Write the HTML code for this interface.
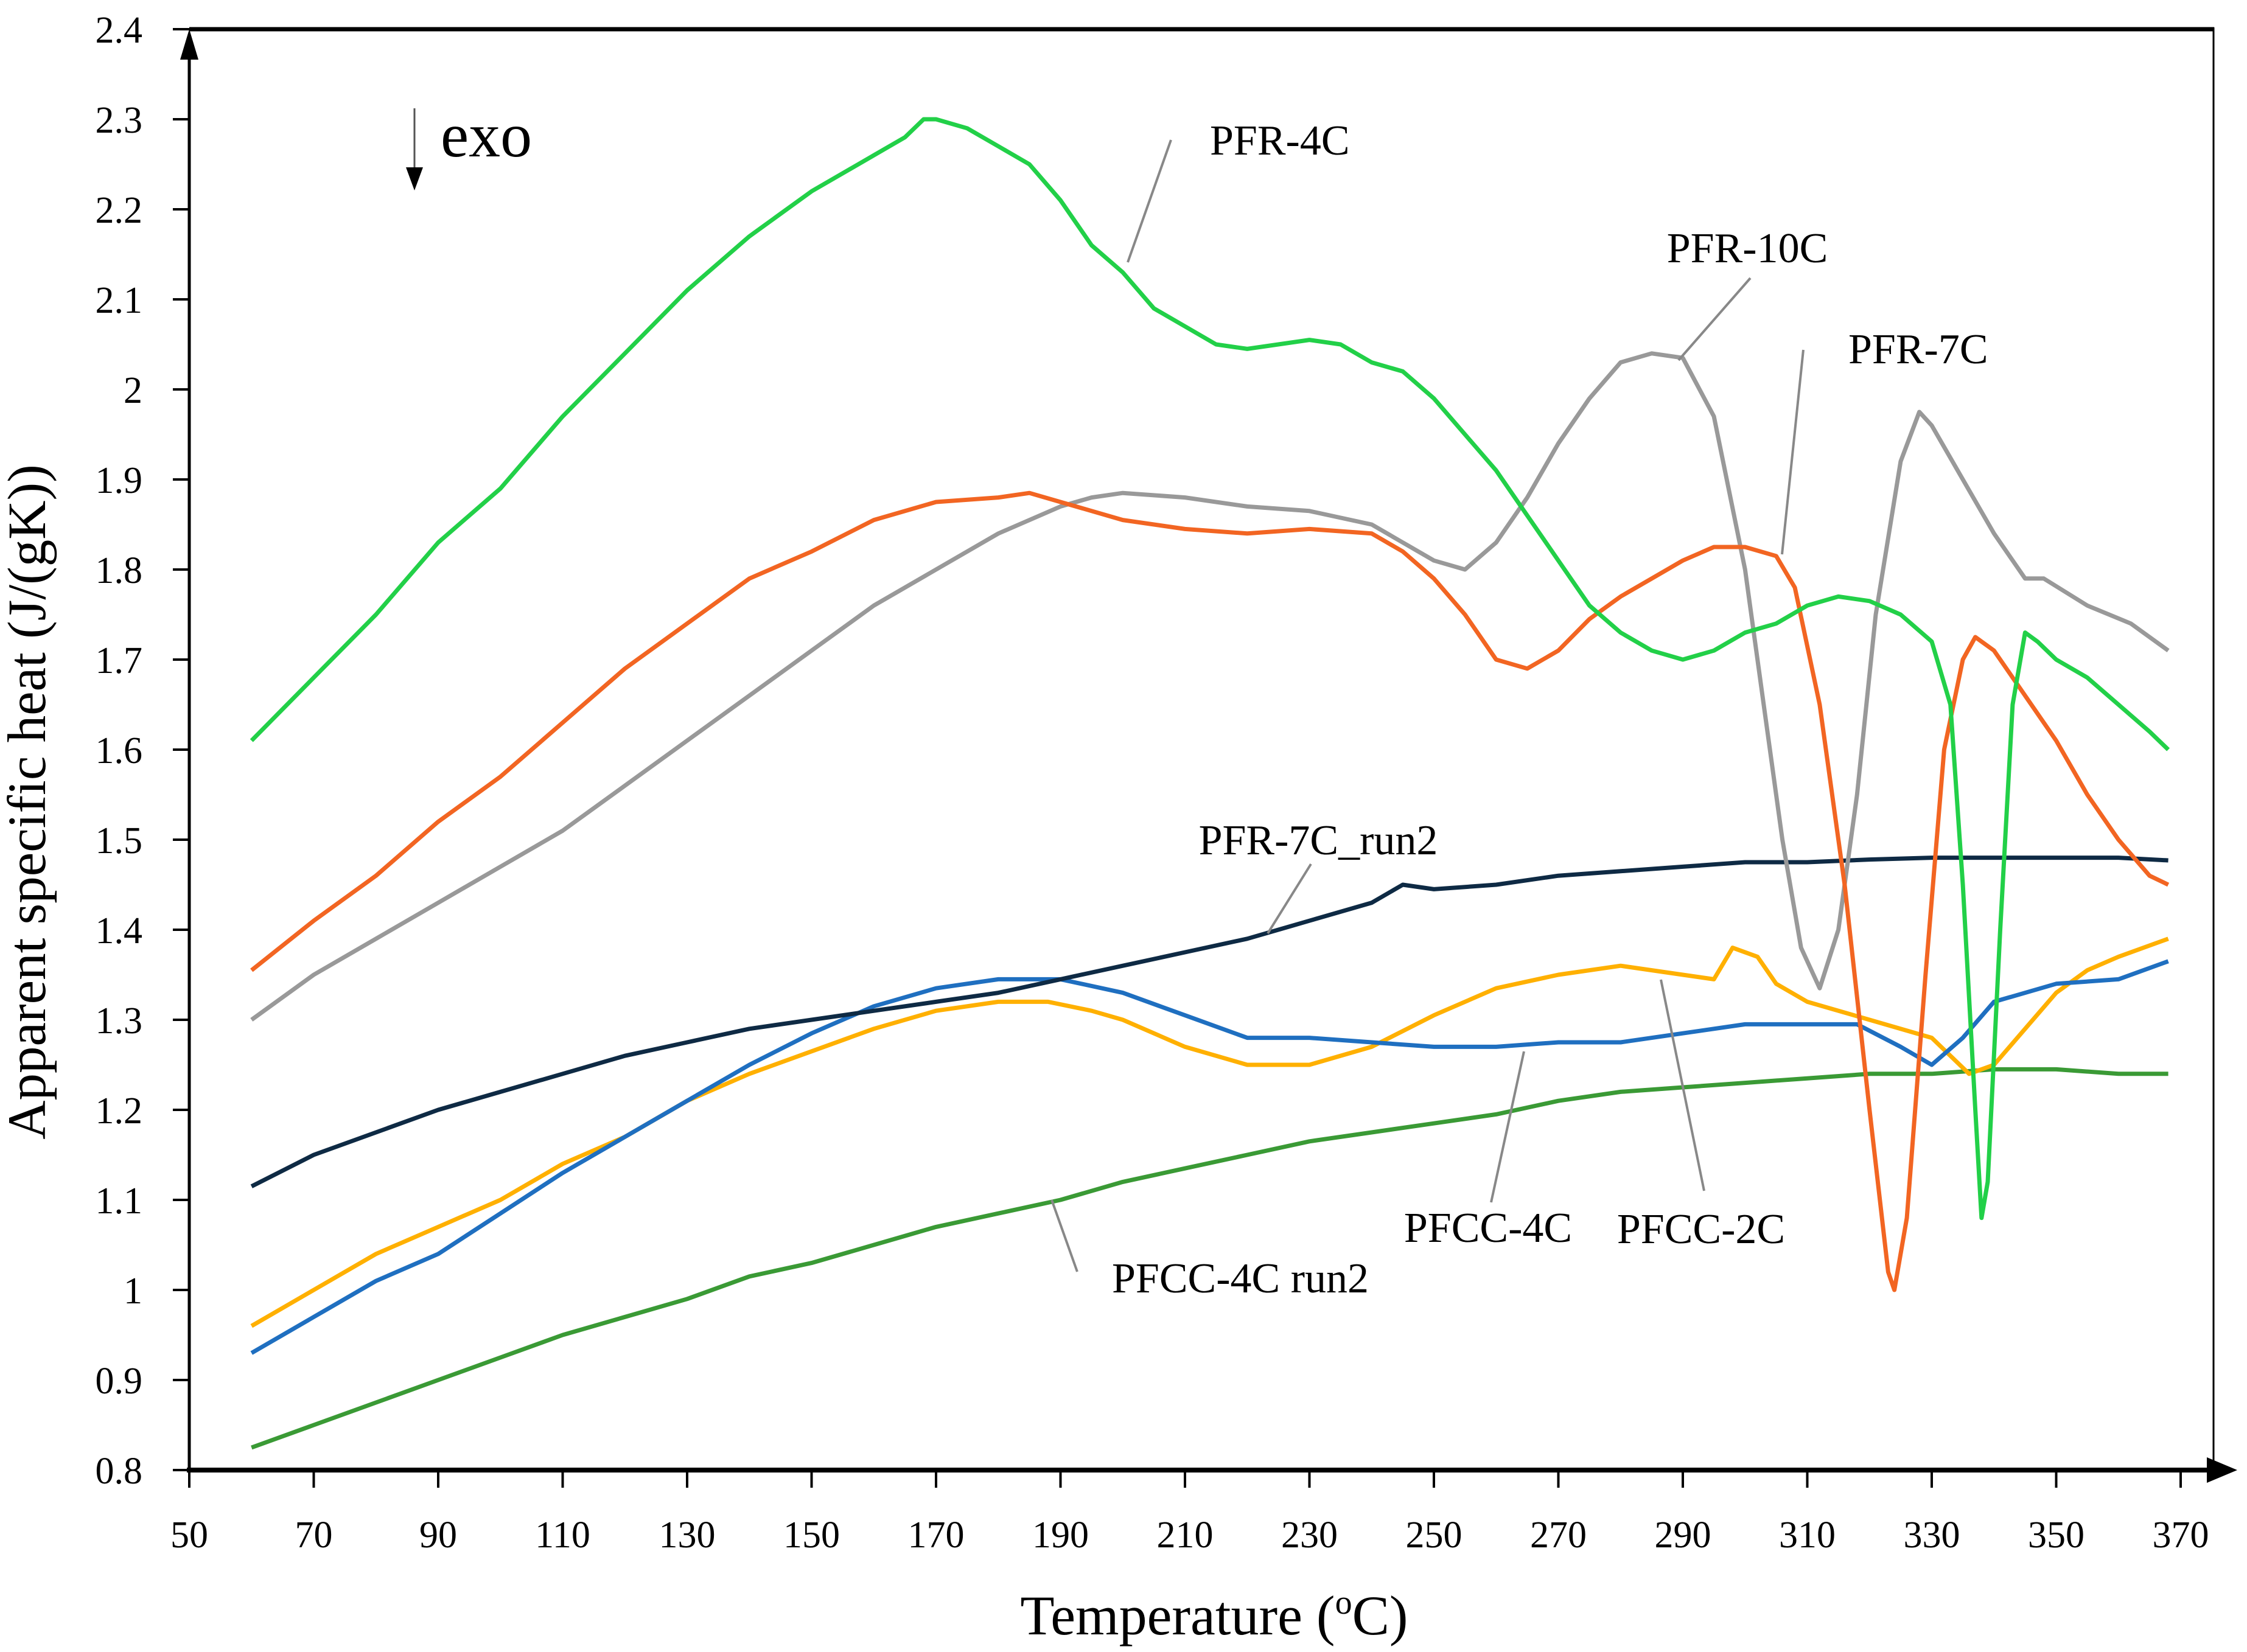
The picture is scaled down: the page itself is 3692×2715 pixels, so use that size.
<!DOCTYPE html>
<html><head><meta charset="utf-8"><style>
html,body{margin:0;padding:0;background:#fff}
svg{display:block}
text{font-family:"Liberation Serif",serif;fill:#000}
</style></head><body>
<svg id="chart" width="3692" height="2715" viewBox="0 0 3692 2715" xmlns="http://www.w3.org/2000/svg">
<g id="axes"></g>
<g id="series"></g>
<g id="labels"></g>
<text x="0" y="0" transform="translate(74,1318) rotate(-90)" text-anchor="middle" font-size="89">Apparent specific heat (J/(gK))</text>
<text x="1995" y="2686" text-anchor="middle" font-size="92">Temperature (<tspan font-size="56" dy="-34">o</tspan><tspan dy="34">C)</tspan></text>
<line x1="681" y1="178" x2="681" y2="285" stroke="#555" stroke-width="3"/>
<polygon points="667,275 695,275 681,313" fill="#000"/>
<text x="724" y="257" font-size="104">exo</text>
</svg>
<script>
const xTicks=[50,70,90,110,130,150,170,190,210,230,250,270,290,310,330,350,370];
const yTicks=[0.8,0.9,1,1.1,1.2,1.3,1.4,1.5,1.6,1.7,1.8,1.9,2,2.1,2.2,2.3,2.4];
const yTickLabels=["0.8","0.9","1","1.1","1.2","1.3","1.4","1.5","1.6","1.7","1.8","1.9","2","2.1","2.2","2.3","2.4"];

const tPFR4C=[60,70,80,90,100,110,120,130,140,150,160,165,168,170,175,180,185,190,195,200,205,210,215,220,225,230,235,240,245,250,255,260,265,270,275,280,285,290,295,300,305,310,315,320,325,330,333,335,337,338,339,341,343,345,347,350,355,360,365,368];
const vPFR4C=[1.61,1.68,1.75,1.83,1.89,1.97,2.04,2.11,2.17,2.22,2.26,2.28,2.30,2.30,2.29,2.27,2.25,2.21,2.16,2.13,2.09,2.07,2.05,2.045,2.05,2.055,2.05,2.03,2.02,1.99,1.95,1.91,1.86,1.81,1.76,1.73,1.71,1.70,1.71,1.73,1.74,1.76,1.77,1.765,1.75,1.72,1.65,1.45,1.2,1.08,1.12,1.4,1.65,1.73,1.72,1.70,1.68,1.65,1.62,1.60];

const tPFR10C=[60,70,80,90,100,110,120,130,140,150,160,170,180,190,195,200,210,220,230,240,245,250,255,260,265,270,275,280,285,290,295,300,303,306,309,312,315,318,321,325,328,330,335,340,345,348,355,362,368];
const vPFR10C=[1.30,1.35,1.39,1.43,1.47,1.51,1.56,1.61,1.66,1.71,1.76,1.80,1.84,1.87,1.88,1.885,1.88,1.87,1.865,1.85,1.83,1.81,1.80,1.83,1.88,1.94,1.99,2.03,2.04,2.035,1.97,1.80,1.65,1.50,1.38,1.335,1.40,1.55,1.75,1.92,1.975,1.96,1.90,1.84,1.79,1.79,1.76,1.74,1.71];

const tPFR7C=[60,70,80,90,100,110,120,130,140,150,160,170,180,185,190,200,210,220,230,240,245,250,255,260,265,270,275,280,285,290,295,300,305,308,312,316,320,323,324,326,329,332,335,337,340,345,350,355,360,365,368];
const vPFR7C=[1.355,1.41,1.46,1.52,1.57,1.63,1.69,1.74,1.79,1.82,1.855,1.875,1.88,1.885,1.875,1.855,1.845,1.84,1.845,1.84,1.82,1.79,1.75,1.70,1.69,1.71,1.745,1.77,1.79,1.81,1.825,1.825,1.815,1.78,1.65,1.45,1.2,1.02,1.0,1.08,1.35,1.6,1.70,1.725,1.71,1.66,1.61,1.55,1.50,1.46,1.45];

const tRun2=[60,70,80,90,100,110,120,130,140,150,160,170,180,190,200,210,220,230,240,245,250,260,270,280,290,300,310,320,330,340,350,360,368];
const vRun2=[1.115,1.15,1.175,1.20,1.22,1.24,1.26,1.275,1.29,1.30,1.31,1.32,1.33,1.345,1.36,1.375,1.39,1.41,1.43,1.45,1.445,1.45,1.46,1.465,1.47,1.475,1.475,1.478,1.48,1.48,1.48,1.48,1.477];

const tPFCC4C=[60,70,80,90,100,110,120,130,140,150,160,170,180,190,200,210,220,230,240,250,260,270,280,290,300,310,318,325,330,335,340,350,360,368];
const vPFCC4C=[0.93,0.97,1.01,1.04,1.085,1.13,1.17,1.21,1.25,1.285,1.315,1.335,1.345,1.345,1.33,1.305,1.28,1.28,1.275,1.27,1.27,1.275,1.275,1.285,1.295,1.295,1.295,1.27,1.25,1.28,1.32,1.34,1.345,1.365];

const tPFCC2C=[60,70,80,90,100,110,120,130,140,150,160,170,180,188,195,200,210,220,230,240,250,260,270,280,290,295,298,302,305,310,320,330,336,340,345,350,355,360,368];
const vPFCC2C=[0.96,1.00,1.04,1.07,1.10,1.14,1.17,1.21,1.24,1.265,1.29,1.31,1.32,1.32,1.31,1.30,1.27,1.25,1.25,1.27,1.305,1.335,1.35,1.36,1.35,1.345,1.38,1.37,1.34,1.32,1.30,1.28,1.24,1.25,1.29,1.33,1.355,1.37,1.39];

const tPFCC4Cr2=[60,70,80,90,100,110,120,130,140,150,160,170,180,190,200,210,220,230,240,250,260,270,280,290,300,310,320,330,340,350,360,368];
const vPFCC4Cr2=[0.825,0.85,0.875,0.90,0.925,0.95,0.97,0.99,1.015,1.03,1.05,1.07,1.085,1.10,1.12,1.135,1.15,1.165,1.175,1.185,1.195,1.21,1.22,1.225,1.23,1.235,1.24,1.24,1.245,1.245,1.24,1.24];

const NS="http://www.w3.org/2000/svg";
const X0=311,X1=3583,Y0=2416,Y1=48;
function sx(t){return X0+(t-50)/(370-50)*(X1-X0);}
function sy(v){return Y0-(v-0.8)/(2.4-0.8)*(Y0-Y1);}
function mk(tag,attrs,parent){const e=document.createElementNS(NS,tag);for(const k in attrs)e.setAttribute(k,attrs[k]);parent.appendChild(e);return e;}

const axes=document.getElementById('axes');
let fr=mk('line',{x1:X0,y1:Y1,x2:3638,y2:Y1,stroke:'#000','stroke-width':7},axes);


let fr2=mk('line',{x1:3637,y1:Y1-3,x2:3637,y2:Y0,stroke:'#000','stroke-width':3},axes);


let ya=mk('line',{x1:X0,y1:Y0,x2:X0,y2:95,stroke:'#000','stroke-width':5},axes);


let yah=mk('polygon',{points:(X0-15)+',98 '+(X0+15)+',98 '+X0+',48'},axes);


let xa=mk('line',{x1:X0-4,y1:Y0,x2:3630,y2:Y0,stroke:'#000','stroke-width':8},axes);


let xah=mk('polygon',{points:'3626,2395 3626,2437 3676,2416'},axes);


xTicks.forEach(t=>{
  const l=mk('line',{x1:sx(t),y1:Y0,x2:sx(t),y2:2445,stroke:'#000','stroke-width':4},axes);
  
  
  const tx=mk('text',{x:sx(t),y:2543,'text-anchor':'middle','font-size':62},axes);
  tx.textContent=t;
  
  
});
yTicks.forEach((v,i)=>{
  const l=mk('line',{x1:284,y1:sy(v),x2:X0,y2:sy(v),stroke:'#000','stroke-width':4},axes);
  
  
  const tx=mk('text',{x:234,y:sy(v)+22,'text-anchor':'end','font-size':62},axes);
  tx.textContent=yTickLabels[i];
  
  
});

const ser=document.getElementById('series');
function drawLine(ts,vs,color,name){
  const d=ts.map((t,i)=>(i?'L':'M')+sx(t).toFixed(1)+','+sy(vs[i]).toFixed(1)).join(' ');
  const p=mk('path',{d:d,fill:'none',stroke:color,'stroke-width':7,'stroke-linejoin':'round'},ser);
  
  
}
drawLine(tPFCC4Cr2,vPFCC4Cr2,'#3a9a35','line-pfcc-4c-run2');
drawLine(tPFCC2C,vPFCC2C,'#ffb000','line-pfcc-2c');
drawLine(tPFCC4C,vPFCC4C,'#1f6fc0','line-pfcc-4c');
drawLine(tRun2,vRun2,'#0e2a44','line-pfr-7c-run2');
drawLine(tPFR10C,vPFR10C,'#999999','line-pfr-10c');
drawLine(tPFR7C,vPFR7C,'#f26522','line-pfr-7c');
drawLine(tPFR4C,vPFR4C,'#22d048','line-pfr-4c');

const lab=document.getElementById('labels');
function label(txt,x,y,anchor,lx1,ly1,lx2,ly2,name){
  const l=mk('line',{x1:lx1,y1:ly1,x2:lx2,y2:ly2,stroke:'#888','stroke-width':4},lab);
  
  
  const t=mk('text',{x:x,y:y,'text-anchor':anchor,'font-size':70},lab);
  t.textContent=txt;
  
  
}
label('PFR-4C',1988,254,'start',1924,230,1853,431,'label-pfr-4c');
label('PFR-10C',2871,431,'middle',2876,457,2758,592,'label-pfr-10c');
label('PFR-7C',3037,597,'start',2963,575,2928,911,'label-pfr-7c');
label('PFR-7C_run2',2166,1404,'middle',2154,1420,2083,1534,'label-pfr-7c-run2');
label('PFCC-4C',2445,2041,'middle',2450,1976,2504,1728,'label-pfcc-4c');
label('PFCC-2C',2795,2043,'middle',2800,1957,2729,1610,'label-pfcc-2c');
label('PFCC-4C run2',1827,2124,'start',1770,2090,1728,1972,'label-pfcc-4c-run2');
</script>
</body></html>
